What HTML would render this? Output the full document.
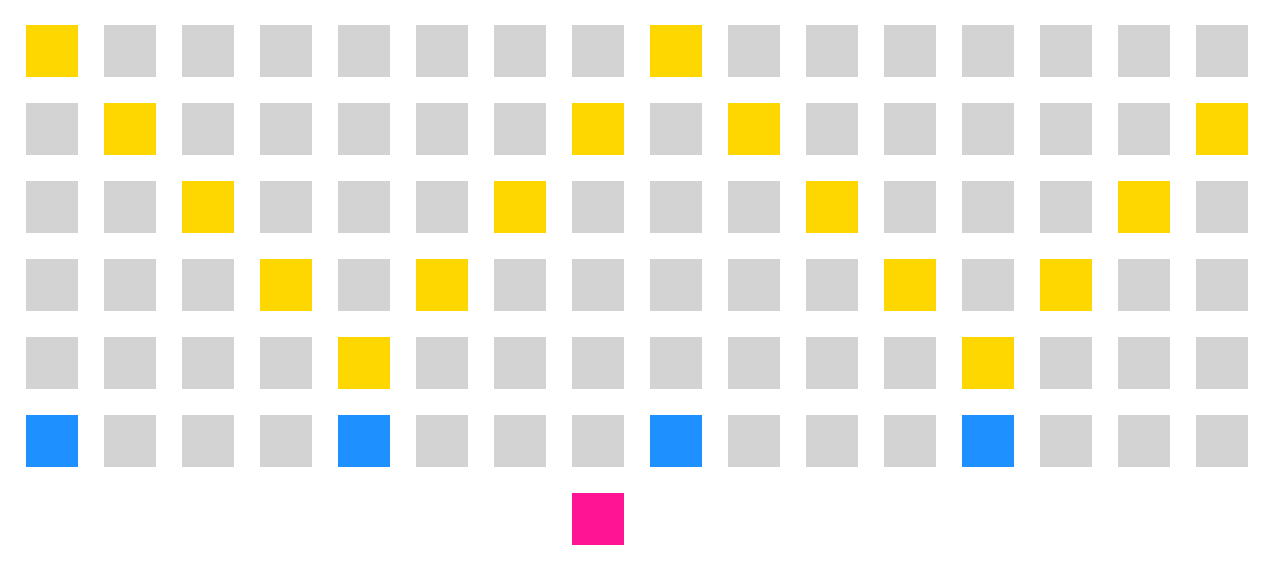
<!DOCTYPE html>
<html>
<head>
<meta charset="utf-8">
<style>
  html, body { margin: 0; padding: 0; background: #ffffff; }
  body { width: 1274px; height: 572px; overflow: hidden; font-family: "Liberation Sans", sans-serif; }
</style>
</head>
<body>
<svg id="chart" width="1274" height="572" viewBox="0 0 1274 572" xmlns="http://www.w3.org/2000/svg"></svg>
<script>
// Grid data: each row lists category per column (g = gray, y = yellow, b = blue, p = pink, _ = empty)
const row0 = ['y','g','g','g','g','g','g','g','y','g','g','g','g','g','g','g'];
const row1 = ['g','y','g','g','g','g','g','y','g','y','g','g','g','g','g','y'];
const row2 = ['g','g','y','g','g','g','y','g','g','g','y','g','g','g','y','g'];
const row3 = ['g','g','g','y','g','y','g','g','g','g','g','y','g','y','g','g'];
const row4 = ['g','g','g','g','y','g','g','g','g','g','g','g','y','g','g','g'];
const row5 = ['b','g','g','g','b','g','g','g','b','g','g','g','b','g','g','g'];
const row6 = ['_','_','_','_','_','_','_','p','_','_','_','_','_','_','_','_'];
const rows = [row0, row1, row2, row3, row4, row5, row6];

const colors = { g: '#d3d3d3', y: '#ffd700', b: '#1e90ff', p: '#ff1493' };
const names = { g: 'gray-square', y: 'yellow-square', b: 'blue-square', p: 'pink-square' };

const x0 = 26, y0 = 25, pitch = 78, size = 52;
function xScale(c) { return x0 + c * pitch; }
function yScale(r) { return y0 + r * pitch; }

const svg = document.getElementById('chart');
const NS = 'http://www.w3.org/2000/svg';
rows.forEach((row, r) => {
  row.forEach((v, c) => {
    if (v === '_') return;
    const rect = document.createElementNS(NS, 'rect');
    rect.setAttribute('x', xScale(c));
    rect.setAttribute('y', yScale(r));
    rect.setAttribute('width', size);
    rect.setAttribute('height', size);
    rect.setAttribute('fill', colors[v]);
    
    
    svg.appendChild(rect);
  });
});
</script>
</body>
</html>
